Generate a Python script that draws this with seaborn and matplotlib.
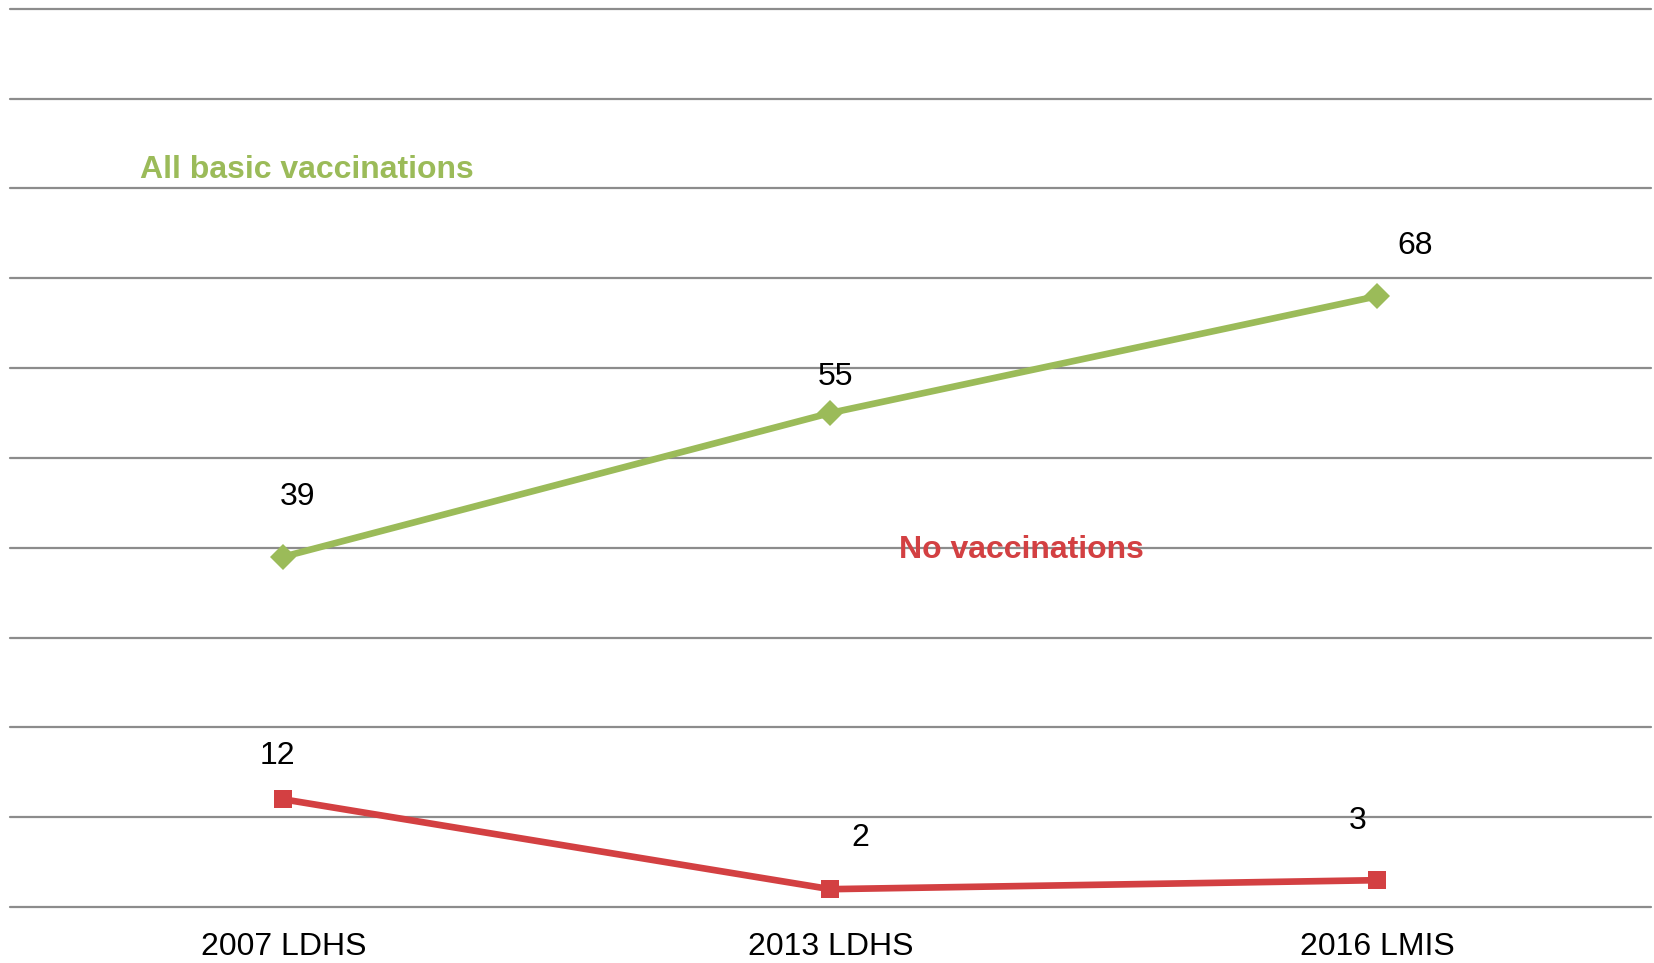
import matplotlib
matplotlib.use("Agg")
import matplotlib.pyplot as plt
import seaborn as sns
import pandas as pd

# data
surveys = ["2007 LDHS", "2013 LDHS", "2016 LMIS"]
all_basic = [39, 55, 68]
no_vacc = [12, 2, 3]

green = "#9BBB59"
red = "#D34042"

sns.set_theme(style="white")
plt.rcParams["font.family"] = ["Liberation Sans", "DejaVu Sans"]

df = pd.DataFrame({
    "survey": surveys * 2,
    "pos": list(range(len(surveys))) * 2,
    "value": all_basic + no_vacc,
    "series": ["All basic vaccinations"] * 3 + ["No vaccinations"] * 3,
})

fig = plt.figure(figsize=(16.54, 9.63), dpi=100)
ax = fig.add_axes([0.006, 0.058, 0.992, 0.933])

sns.lineplot(data=df, x="pos", y="value", hue="series", style="series",
             markers={"All basic vaccinations": "D", "No vaccinations": "s"},
             dashes=False, palette={"All basic vaccinations": green, "No vaccinations": red},
             linewidth=4.8, markersize=13.5, markeredgewidth=0, legend=False, ax=ax)

ax.set_xlim(-0.5, 2.5)
ax.set_ylim(0, 100)
ax.set_yticks(range(0, 101, 10))
ax.yaxis.grid(True, color="#8C8C8C", linewidth=1.6)
for gl in ax.get_ygridlines():
    gl.set_clip_on(False)
ax.set_yticklabels([])
ax.tick_params(axis="y", length=0)
ax.set_xticks(range(len(surveys)))
ax.set_xticklabels(surveys, fontsize=23, color="black")
ax.tick_params(axis="x", length=0, pad=18)
ax.set_xlabel("")
ax.set_ylabel("")
for s in ax.spines.values():
    s.set_visible(False)

# value labels (offsets in pixels, from the reference)
green_offsets = [(14, 60), (5, 36), (38, 50)]
red_offsets = [(-6, 43), (30, 51), (-20, 59)]
for i, (v, off) in enumerate(zip(all_basic, green_offsets)):
    ax.annotate(str(v), (i, v), xytext=off, textcoords="offset pixels",
                ha="center", va="center", fontsize=23, color="black")
for i, (v, off) in enumerate(zip(no_vacc, red_offsets)):
    ax.annotate(str(v), (i, v), xytext=off, textcoords="offset pixels",
                ha="center", va="center", fontsize=23, color="black")

ax.text(-0.263, 82.0, "All basic vaccinations", ha="left", va="center",
        fontsize=23, fontweight="bold", color=green)
ax.text(1.35, 39.8, "No vaccinations", ha="center", va="center",
        fontsize=23, fontweight="bold", color=red)

fig.savefig("out.png", dpi=100)
